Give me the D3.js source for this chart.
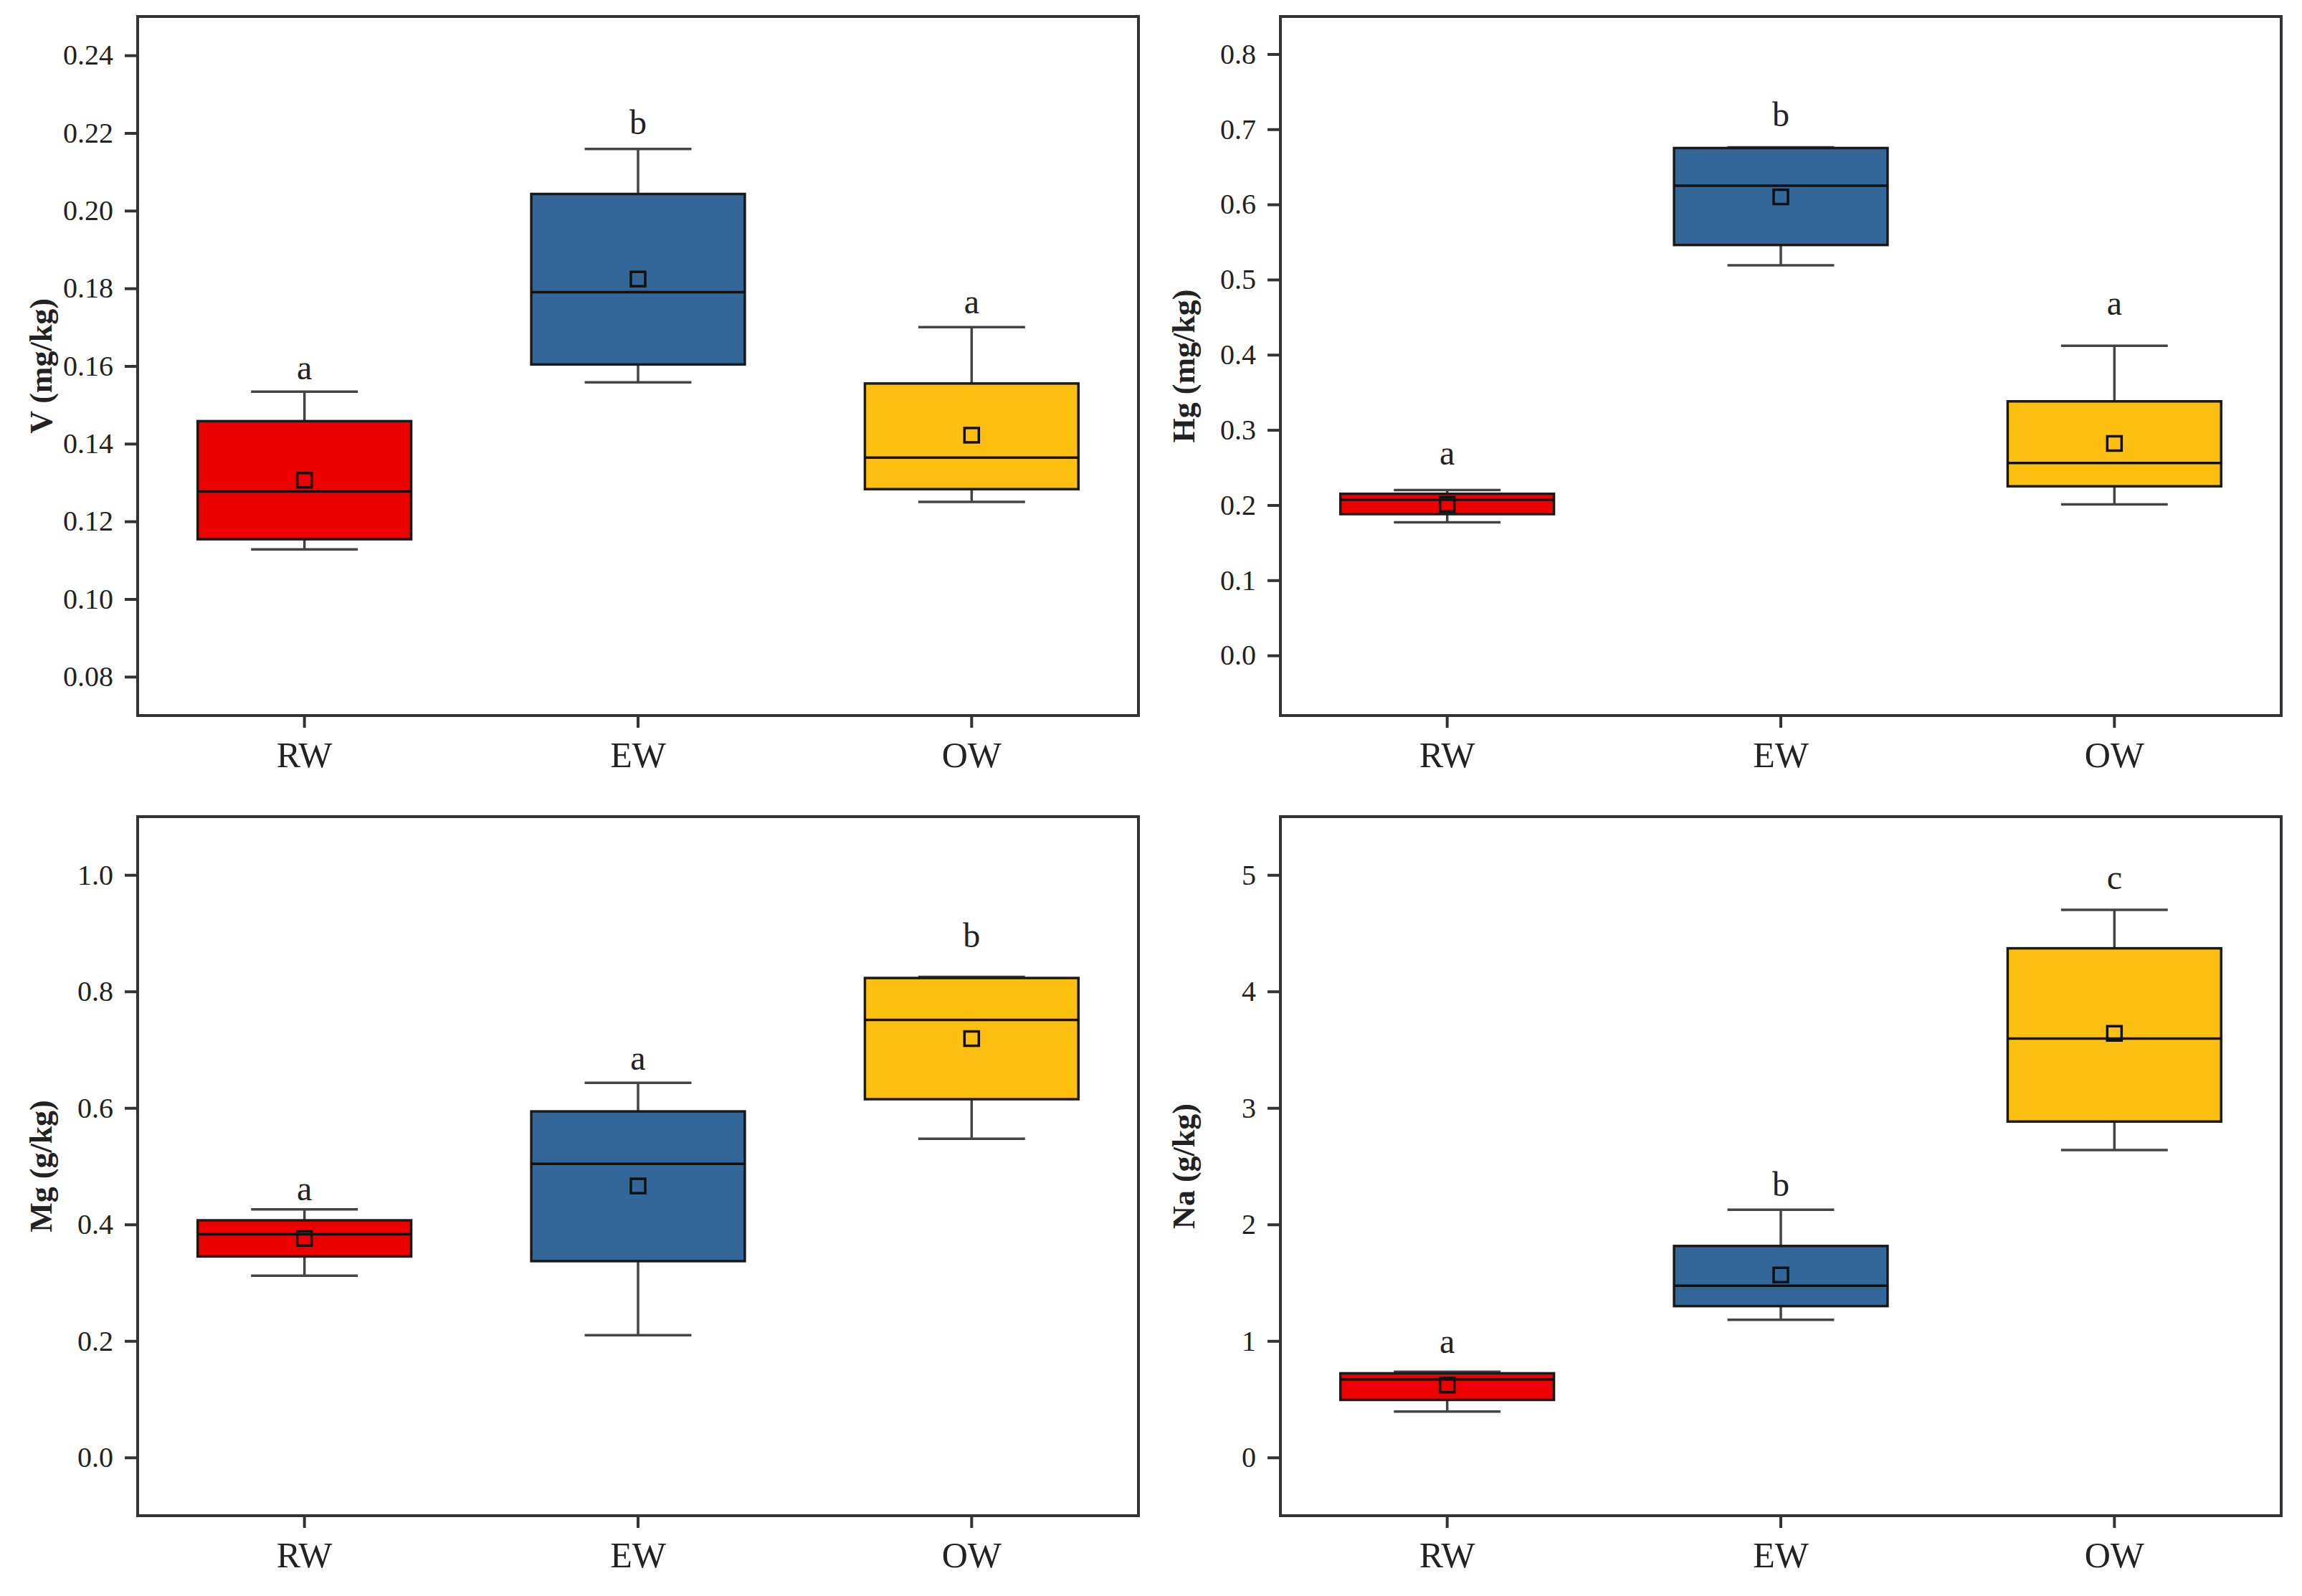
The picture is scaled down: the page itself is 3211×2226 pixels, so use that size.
<!DOCTYPE html>
<html lang="en">
<head>
    <meta charset="UTF-8">
    <title>Box plots: V, Hg, Mg, Na</title>
    <script src="https://d3js.org/d3.v7.min.js"></script>
    <style>
        body, html {
            margin: 0;
            padding: 0;
            overflow: hidden;
            background: #fff;
        }
        svg {
            display: block;
            background: #fff;
        }
        text {
            font-family: "Liberation Serif", "Times New Roman", serif;
            fill: #222;
        }
        .tick line {
            stroke: #333;
            stroke-width: 4px;
        }
    </style>
</head>
<body>
    <svg></svg>

    <script>
        const width = 3211;
        const height = 2226;

        const groups = ["RW", "EW", "OW"];
        const colors = ["#EE0000", "#336699", "#FDC010"];

        // [min, q1, median, q3, max] per group
        const V_box = [[0.1128, 0.1154, 0.1277, 0.1458, 0.1534],
                       [0.1558, 0.1604, 0.1790, 0.2043, 0.2159],
                       [0.1250, 0.1283, 0.1364, 0.1555, 0.1700]];
        const V_mean = [0.1306, 0.1824, 0.1422];
        const V_letters = ["a", "b", "a"];
        const V_letterAt = [0.1565, 0.2197, 0.1736];
        const V_ticks = [0.08, 0.10, 0.12, 0.14, 0.16, 0.18, 0.20, 0.22, 0.24];

        const Hg_box = [[0.177, 0.188, 0.207, 0.215, 0.220],
                        [0.519, 0.546, 0.625, 0.675, 0.676],
                        [0.201, 0.225, 0.256, 0.338, 0.412]];
        const Hg_mean = [0.201, 0.610, 0.282];
        const Hg_letters = ["a", "b", "a"];
        const Hg_letterAt = [0.254, 0.704, 0.453];
        const Hg_ticks = [0.0, 0.1, 0.2, 0.3, 0.4, 0.5, 0.6, 0.7, 0.8];

        const Mg_box = [[0.312, 0.345, 0.383, 0.407, 0.426],
                        [0.210, 0.337, 0.504, 0.594, 0.643],
                        [0.547, 0.615, 0.751, 0.823, 0.825]];
        const Mg_mean = [0.376, 0.466, 0.719];
        const Mg_letters = ["a", "a", "b"];
        const Mg_letterAt = [0.442, 0.665, 0.876];
        const Mg_ticks = [0.0, 0.2, 0.4, 0.6, 0.8, 1.0];

        const Na_box = [[0.394, 0.494, 0.669, 0.722, 0.735],
                        [1.181, 1.299, 1.474, 1.815, 2.126],
                        [2.638, 2.883, 3.596, 4.370, 4.700]];
        const Na_mean = [0.621, 1.566, 3.640];
        const Na_letters = ["a", "b", "c"];
        const Na_letterAt = [0.897, 2.244, 4.878];
        const Na_ticks = [0, 1, 2, 3, 4, 5];

        const panels = [
            {title: "V (mg/kg)",  domain: [0.07, 0.25], ticks: V_ticks,  fmt: ".2f", box: V_box,  mean: V_mean,  letters: V_letters,  letterAt: V_letterAt},
            {title: "Hg (mg/kg)", domain: [-0.08, 0.85], ticks: Hg_ticks, fmt: ".1f", box: Hg_box, mean: Hg_mean, letters: Hg_letters, letterAt: Hg_letterAt},
            {title: "Mg (g/kg)",  domain: [-0.1, 1.1],  ticks: Mg_ticks, fmt: ".1f", box: Mg_box, mean: Mg_mean, letters: Mg_letters, letterAt: Mg_letterAt},
            {title: "Na (g/kg)",  domain: [-0.5, 5.5],  ticks: Na_ticks, fmt: "d",   box: Na_box, mean: Na_mean, letters: Na_letters, letterAt: Na_letterAt}
        ];

        // panel frames: two columns, two rows
        const cols = [192, 1786];
        const rows = [23, 1139];
        const pw = 1396, ph = 975;

        const svg = d3.select("svg")
            .attr("width", width)
            .attr("height", height);

        panels.forEach((p, i) => {
            const g = svg.append("g")
                .attr("transform", `translate(${cols[i % 2]},${rows[Math.floor(i / 2)]})`);

            const x = d3.scaleBand().domain(groups).range([0, pw]);
            const y = d3.scaleLinear().domain(p.domain).range([ph, 0]);
            const bw = x.bandwidth();
            const boxW = bw * 0.64;
            const capW = bw * 0.32;

            // axes
            const ya = g.append("g")
                .call(d3.axisLeft(y).tickValues(p.ticks).tickFormat(d3.format(p.fmt))
                    .tickSize(18).tickPadding(16).tickSizeOuter(0));
            ya.select(".domain").remove();
            ya.selectAll("text").style("font-size", "40px");

            const xa = g.append("g")
                .attr("transform", `translate(0,${ph})`)
                .call(d3.axisBottom(x).tickSize(17).tickPadding(19).tickSizeOuter(0));
            xa.select(".domain").remove();
            xa.selectAll("text").style("font-size", "50px");

            // y title
            g.append("text")
                .attr("transform", "rotate(-90)")
                .attr("x", -ph / 2)
                .attr("y", -135)
                .attr("dy", "0.35em")
                .attr("text-anchor", "middle")
                .style("font-size", "44px")
                .style("font-weight", "bold")
                .text(p.title);

            const items = groups.map((k, j) => ({
                key: k, color: colors[j], s: p.box[j], mean: p.mean[j],
                letter: p.letters[j], letterAt: p.letterAt[j]
            }));

            const b = g.selectAll(".box")
                .data(items)
                .enter().append("g")
                .attr("class", "box")
                .attr("transform", d => `translate(${x(d.key) + bw / 2},0)`);

            // whiskers
            b.append("line")
                .attr("y1", d => y(d.s[4])).attr("y2", d => y(d.s[3]))
                .attr("stroke", "#444").attr("stroke-width", 3.5);
            b.append("line")
                .attr("y1", d => y(d.s[1])).attr("y2", d => y(d.s[0]))
                .attr("stroke", "#444").attr("stroke-width", 3.5);
            b.append("line")
                .attr("x1", -capW / 2).attr("x2", capW / 2)
                .attr("y1", d => y(d.s[4])).attr("y2", d => y(d.s[4]))
                .attr("stroke", "#444").attr("stroke-width", 3.5);
            b.append("line")
                .attr("x1", -capW / 2).attr("x2", capW / 2)
                .attr("y1", d => y(d.s[0])).attr("y2", d => y(d.s[0]))
                .attr("stroke", "#444").attr("stroke-width", 3.5);

            // box
            b.append("rect")
                .attr("x", -boxW / 2)
                .attr("width", boxW)
                .attr("y", d => y(d.s[3]))
                .attr("height", d => y(d.s[1]) - y(d.s[3]))
                .attr("fill", d => d.color)
                .attr("stroke", "#1a1a1a")
                .attr("stroke-width", 3.5);

            // median
            b.append("line")
                .attr("x1", -boxW / 2).attr("x2", boxW / 2)
                .attr("y1", d => y(d.s[2])).attr("y2", d => y(d.s[2]))
                .attr("stroke", "#111").attr("stroke-width", 3.5);

            // mean marker
            b.append("rect")
                .attr("x", -10).attr("width", 20)
                .attr("y", d => y(d.mean) - 10).attr("height", 20)
                .attr("fill", "none")
                .attr("stroke", "#111")
                .attr("stroke-width", 3.5);

            // significance letters
            b.append("text")
                .attr("y", d => y(d.letterAt))
                .attr("text-anchor", "middle")
                .style("font-size", "48px")
                .text(d => d.letter);

            // frame
            g.append("rect")
                .attr("width", pw)
                .attr("height", ph)
                .attr("fill", "none")
                .attr("stroke", "#333")
                .attr("stroke-width", 4);
        });
    </script>
</body>
</html>
